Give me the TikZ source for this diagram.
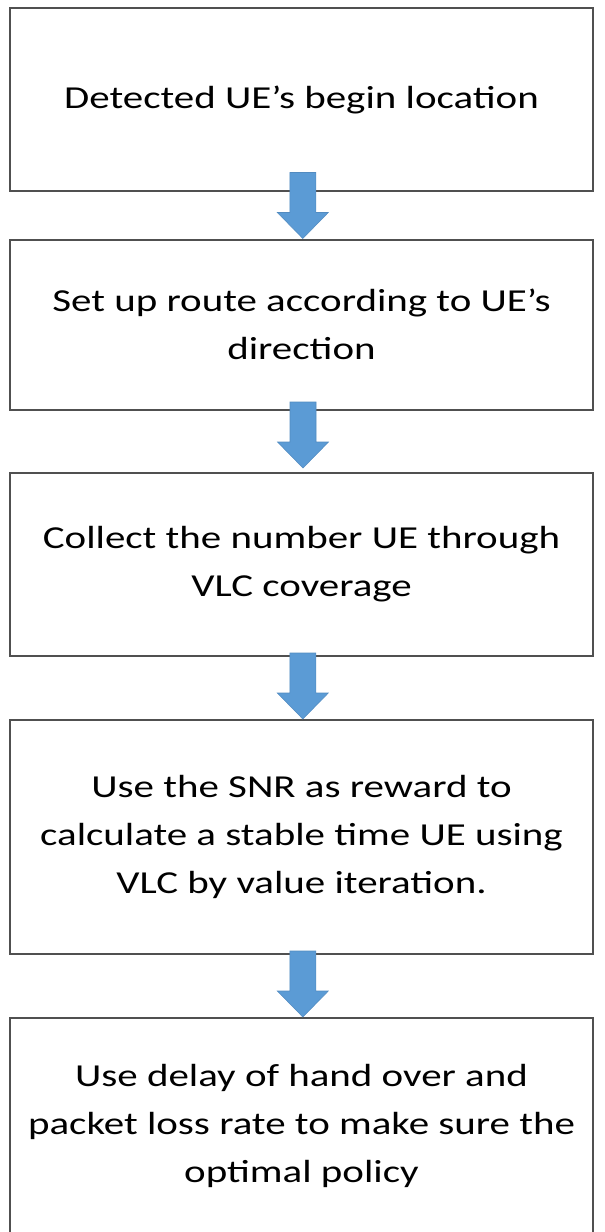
\documentclass[tikz,border=0pt]{standalone}
\usepackage{fontspec}
\setmainfont[FakeStretch=1.28]{Carlito}
\definecolor{boxline}{HTML}{505050}
\definecolor{arrowblue}{HTML}{5B9BD5}

\begin{document}
\begin{tikzpicture}[
    x=0.75pt, y=-0.75pt,
    stepbox/.style={draw=boxline, line width=1.5pt, fill=white, minimum width=437pt,
        align=center, inner sep=0pt, font=\fontsize{24}{36}\selectfont},
    flowarrow/.style={fill=arrowblue, draw=arrowblue!90!black, line width=0.4pt}
]
\useasboundingbox (0,0) rectangle (605,1232);

% Passi
\node[stepbox, minimum height=137.25pt] (detect) at (301.5,99.5) {Detected UE’s begin location};
\node[stepbox, minimum height=127.5pt] (route) at (301.5,324.5) {Set up route according to UE’s\\direction};
\node[stepbox, minimum height=137.25pt] (collect) at (301.5,564.5) {Collect the number UE through\\VLC coverage};
\node[stepbox, minimum height=175.5pt] (snr) at (301.5,837) {Use the SNR as reward to\\calculate a stable time UE using\\VLC by value iteration.};
\node[stepbox, minimum height=162pt] (delay) at (301.5,1126) {Use delay of hand over and\\packet loss rate to make sure the\\optimal policy};

% Frecce
\draw[flowarrow] ([xshift=1pt]route.north) -- ++(25.5,-26) -- ++(-12.5,0) -- ++(0,-40)
    -- ++(-26,0) -- ++(0,40) -- ++(-12.5,0) -- cycle;
\draw[flowarrow] ([shift={(1.5,-4)}]collect.north) -- ++(25.5,-26) -- ++(-12.5,0) -- ++(0,-40)
    -- ++(-26,0) -- ++(0,40) -- ++(-12.5,0) -- cycle;
\draw[flowarrow] ([xshift=1pt]snr.north) -- ++(25.5,-26) -- ++(-12.5,0) -- ++(0,-40)
    -- ++(-26,0) -- ++(0,40) -- ++(-12.5,0) -- cycle;
\draw[flowarrow] ([xshift=1pt]delay.north) -- ++(25.5,-26) -- ++(-12.5,0) -- ++(0,-40)
    -- ++(-26,0) -- ++(0,40) -- ++(-12.5,0) -- cycle;
\end{tikzpicture}
\end{document}
